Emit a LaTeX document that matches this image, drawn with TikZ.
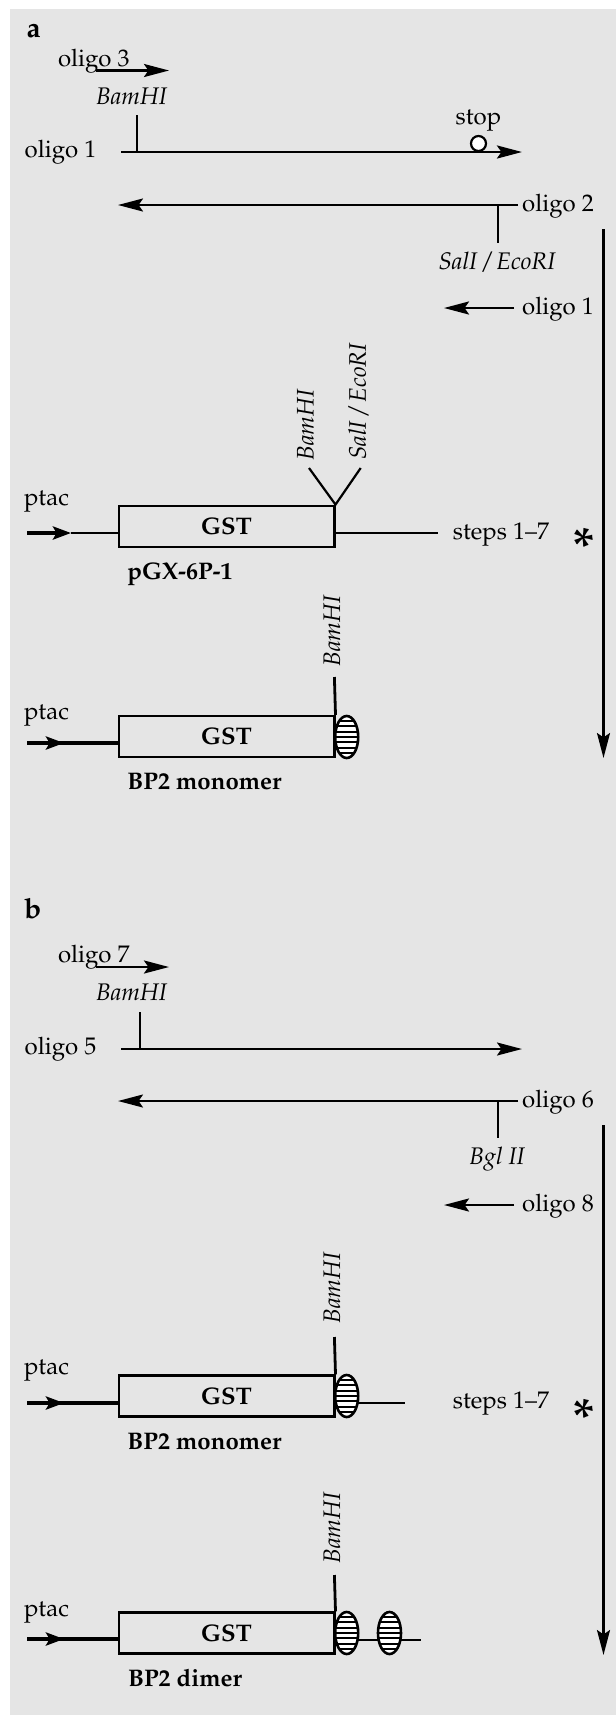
\documentclass[tikz,border=0pt]{standalone}
\usepackage[T1]{fontenc}
\usepackage{mathpazo}
\usetikzlibrary{arrows.meta,shapes.geometric}
\definecolor{bgc}{RGB}{229,229,229}
\tikzset{
 txt/.style={inner sep=0pt, font=\fontsize{12}{14}\selectfont},
 itx/.style={inner sep=0pt, font=\fontsize{12}{14}\selectfont\itshape},
 bld/.style={inner sep=0pt, font=\fontsize{12}{14}\selectfont\bfseries},
 panel/.style={inner sep=0pt, font=\fontsize{14}{16}\selectfont\bfseries},
 ast/.style={inner sep=0pt, font=\fontsize{26}{26}\selectfont\bfseries},
 gstbox/.style={draw, line width=1.1pt, inner sep=0pt, minimum width=107.85pt, minimum height=20.5pt, font=\fontsize{12}{14}\selectfont\bfseries},
 hatch/.style={ellipse, draw, line width=1.3pt, fill=white, inner sep=0pt, minimum width=11.5pt, minimum height=21pt,
   path picture={\foreach \k in {-3,...,3} \draw[line width=1pt] ([yshift=\k*2.65pt]path picture bounding box.west) -- ([yshift=\k*2.65pt]path picture bounding box.east);}},
 arr/.style={-{Stealth[length=12.5pt,width=6.5pt,inset=2.2pt]}},
 arrp/.style={-{Stealth[length=9pt,width=6.5pt,inset=1.8pt]}},
 strand/.style={line width=1.4pt},
 heavy/.style={line width=2pt},
 fine/.style={line width=1.1pt},
 stopmark/.style={circle, draw, fill=white, line width=1.1pt, minimum size=7.5pt, inner sep=0pt},
}
\begin{document}
\begin{tikzpicture}[x=0.5pt,y=-0.5pt]
\useasboundingbox (0,0) rectangle (616,1715);
\fill[bgc] (10,9) rectangle (616,1715);

% ================= panel a =================
\node[panel] (la) at (33.5,30.5) {a};
\node[txt] (o3) at (93.8,61) {oligo 3};
\coordinate (o3s) at (96,70.5); \coordinate (o3e) at (169,70.5);
\draw[line width=1.2pt,arr] (o3s) -- (o3e);
\node[itx] (bamA) at (131.5,96) {BamHI};
\coordinate (tA1) at (137,115); \coordinate (tA2) at (137,152);
\draw[fine] (tA1) -- (tA2);
\node[txt] (o1) at (60.5,152.5) {oligo 1};
\coordinate (s1s) at (121,152); \coordinate (s1e) at (522,152);
\draw[strand,arr] (s1s) -- (s1e);
\node[txt] (stop) at (478.5,121) {stop};
\node[stopmark] (stopc) at (478.5,143.5) {};

\node[txt] (o2) at (558,206) {oligo 2};
\coordinate (s2s) at (518,205); \coordinate (s2e) at (118,205);
\draw[fine,arr] (s2s) -- (s2e);
\coordinate (tB1) at (498,205); \coordinate (tB2) at (498,243);
\draw[fine] (tB1) -- (tB2);
\node[itx] (seA) at (497,262) {SalI / EcoRI};

\node[txt] (o1b) at (558,309) {oligo 1};
\coordinate (s3s) at (514,308); \coordinate (s3e) at (444,308);
\draw[line width=1.2pt,arr] (s3s) -- (s3e);

\coordinate (vAs) at (603.5,229); \coordinate (vAe) at (603.5,758);
\draw[fine,arr] (vAs) -- (vAe);

% pGX-6P-1
\node[itx,rotate=90] (bamB) at (305.5,425) {BamHI};
\node[itx,rotate=90] (seB) at (358.5,401.5) {SalI / EcoRI};
\node[gstbox] (gst1) at (226.55,526.2) {GST};
\coordinate (vl) at (309,468); \coordinate (vr) at (360.7,468);
\draw[fine] (vl) -- (gst1.north east) -- (vr);
\node[txt] (ptac1) at (46.5,502) {ptac};
\coordinate (p1a) at (27,533); \coordinate (p1b) at (71,533); \coordinate (p1c) at (118.7,533);
\draw[heavy,arrp] (p1a) -- (p1b);
\draw[fine] (p1b) -- (p1c);
\coordinate (r1a) at (334.4,533); \coordinate (r1b) at (438,533);
\draw[fine] (r1a) -- (r1b);
\node[txt] (st1) at (501,535) {steps 1--7};
\node[ast] (as1) at (584.5,546.5) {*};
\node[bld] (pgx) at (180,574) {pGX-6P-1};

% BP2 monomer (a)
\node[itx,rotate=90] (bamC) at (332,631) {BamHI};
\node[gstbox] (gst2) at (226.55,736.5) {GST};
\coordinate (kC) at (334.4,677);
\draw[strand] (kC) -- (gst2.north east);
\node[txt] (ptac2) at (46.5,716) {ptac};
\coordinate (p2a) at (27,743) ; \coordinate (p2b) at (64,743); \coordinate (p2c) at (118.7,743);
\draw[heavy] (p2a) -- (p2c);
\draw[heavy,arrp] (p2a) -- (p2b);
\node[hatch] (e1) at (346.7,737) {};
\node[bld] (bp2a) at (204.5,782) {BP2 monomer};

% ================= panel b =================
\node[panel] (lb) at (33,909) {b};
\node[txt] (o7) at (93.8,957) {oligo 7};
\coordinate (o7s) at (96,967); \coordinate (o7e) at (169,967);
\draw[line width=1.2pt,arr] (o7s) -- (o7e);
\node[itx] (bamD) at (131.5,992.5) {BamHI};
\coordinate (tD1) at (140,1012); \coordinate (tD2) at (140,1049);
\draw[fine] (tD1) -- (tD2);
\node[txt] (o5) at (60.5,1049.5) {oligo 5};
\coordinate (s5s) at (121,1049); \coordinate (s5e) at (522,1049);
\draw[fine,arr] (s5s) -- (s5e);

\node[txt] (o6) at (558,1102) {oligo 6};
\coordinate (s6s) at (518,1101); \coordinate (s6e) at (118,1101);
\draw[fine,arr] (s6s) -- (s6e);
\coordinate (tE1) at (498,1101); \coordinate (tE2) at (498,1138);
\draw[fine] (tE1) -- (tE2);
\node[itx] (bgl) at (497,1159) {Bgl II};

\node[txt] (o8) at (558,1206) {oligo 8};
\coordinate (s8s) at (514,1205); \coordinate (s8e) at (444,1205);
\draw[line width=1.2pt,arr] (s8s) -- (s8e);

\coordinate (vBs) at (603.5,1125); \coordinate (vBe) at (603.5,1655);
\draw[fine,arr] (vBs) -- (vBe);

% BP2 monomer (b)
\node[itx,rotate=90] (bamF) at (332,1288) {BamHI};
\node[gstbox] (gst3) at (226.55,1396) {GST};
\coordinate (kF) at (334.4,1337);
\draw[strand] (kF) -- (gst3.north east);
\node[txt] (ptac3) at (46.5,1371) {ptac};
\coordinate (p3a) at (27,1403); \coordinate (p3b) at (64,1403); \coordinate (p3c) at (118.7,1403);
\draw[heavy] (p3a) -- (p3c);
\draw[heavy,arrp] (p3a) -- (p3b);
\coordinate (r3a) at (350,1403); \coordinate (r3b) at (405,1403);
\draw[fine] (r3a) -- (r3b);
\node[hatch] (e2) at (346.7,1396) {};
\node[txt] (st2) at (501,1404) {steps 1--7};
\node[ast] (as2) at (584.5,1417.5) {*};
\node[bld] (bp2b) at (204.5,1442) {BP2 monomer};

% BP2 dimer
\node[itx,rotate=90] (bamG) at (332,1528) {BamHI};
\node[gstbox] (gst4) at (226.55,1633) {GST};
\coordinate (kG) at (334.4,1575);
\draw[strand] (kG) -- (gst4.north east);
\node[txt] (ptac4) at (46.5,1612.5) {ptac};
\coordinate (p4a) at (27,1639); \coordinate (p4b) at (64,1639); \coordinate (p4c) at (118.7,1639);
\draw[heavy] (p4a) -- (p4c);
\draw[heavy,arrp] (p4a) -- (p4b);
\coordinate (r4a) at (350,1640); \coordinate (r4b) at (421,1640);
\draw[fine] (r4a) -- (r4b);
\node[hatch] (e3) at (346.7,1633) {};
\node[hatch] (e4) at (389.5,1633) {};
\node[bld] (bp2d) at (185,1678) {BP2 dimer};
\end{tikzpicture}
\end{document}
